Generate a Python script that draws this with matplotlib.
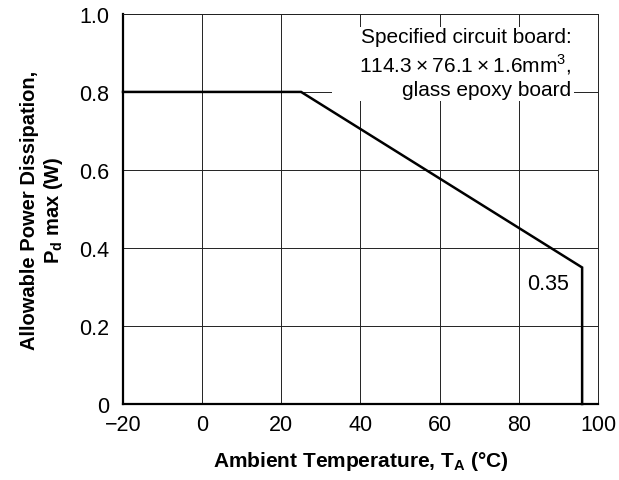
import matplotlib
matplotlib.use("Agg")
import matplotlib.pyplot as plt
from matplotlib.patches import Rectangle

plt.rcParams['font.family'] = ['Liberation Sans', 'DejaVu Sans']
plt.rcParams['mathtext.fontset'] = 'custom'
plt.rcParams['mathtext.rm'] = 'Liberation Sans'
plt.rcParams['mathtext.bf'] = 'Liberation Sans:bold'

# derating curve
temp = [-20, 25, 96, 96]
power = [0.8, 0.8, 0.35, 0.0]
xticks = [-20, 0, 20, 40, 60, 80, 100]
xtick_labels = ["\u221220", "0", "20", "40", "60", "80", "100"]
yticks = [0, 0.2, 0.4, 0.6, 0.8, 1.0]
ytick_labels = ["0", "0.2", "0.4", "0.6", "0.8", "1.0"]

fig = plt.figure(figsize=(6.19, 4.81), dpi=100)
ax = fig.add_axes([0.1987, 0.158, 0.7673, 0.811])

ax.plot(temp, power, color="black", lw=1.8, solid_joinstyle="miter", zorder=3, clip_on=False)

ax.set_xlim(-20, 100)
ax.set_ylim(0, 1.0)
ax.set_xticks(xticks)
ax.set_xticklabels(xtick_labels)
ax.set_yticks(yticks)
ax.set_yticklabels(ytick_labels)
ax.tick_params(length=0, labelsize=15.5)
ax.tick_params(axis="x", pad=7)
ax.tick_params(axis="y", pad=10)
ax.grid(True, color="#222222", lw=0.7)

for side in ["top", "right"]:
    ax.spines[side].set_linewidth(0.7)
    ax.spines[side].set_color("#222222")
for side in ["left", "bottom"]:
    ax.spines[side].set_linewidth(1.6)

ax.set_xlabel(r"Ambient Temperature, T$_\mathbf{A}$ (°C)", fontsize=15,
              fontweight="bold", labelpad=10)
ax.set_ylabel("Allowable Power Dissipation,\n" + r"P$_\mathbf{d}$ max (W)",
              fontsize=14.5, fontweight="bold", labelpad=10)

# white backing behind the board note
ax.add_patch(Rectangle((0.44, 0.777), 0.51, 0.19, transform=ax.transAxes,
                       facecolor="white", edgecolor="none", zorder=2.5))
ax.text(93.3, 0.967,
        "Specified circuit board:\n114.3\u2009\u00d7\u200976.1\u2009\u00d7\u20091.6mm$^3$,\nglass epoxy board",
        ha="right", va="top", fontsize=15, linespacing=1.27, zorder=4)

ax.text(87.5, 0.31, "0.35", ha="center", va="center", fontsize=15.5, zorder=4)

fig.savefig("out.png", dpi=100)
